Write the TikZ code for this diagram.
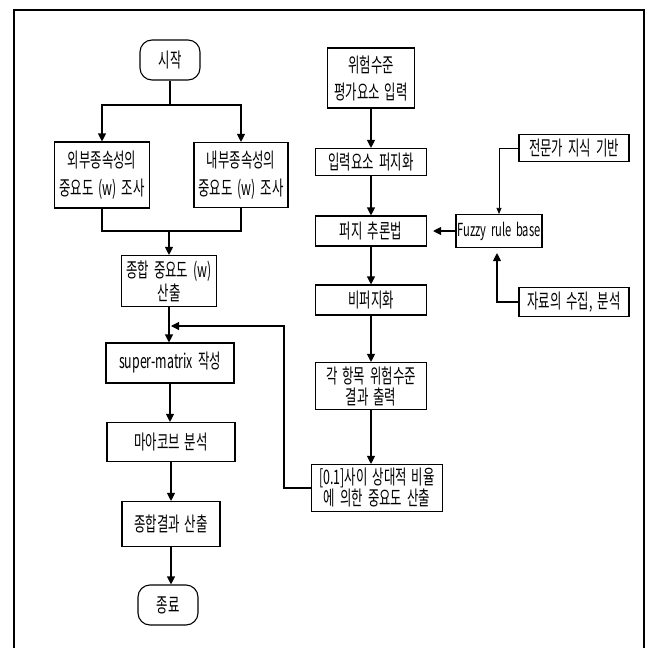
\documentclass[tikz,border=0pt]{standalone}
\usepackage{fontspec}
\setmainfont{Noto Sans CJK KR}[FakeStretch=0.62, WordSpace=1.8]
\usepackage{tikz}
\usetikzlibrary{positioning, arrows.meta}

\tikzset{
  box/.style={draw, line width=1.1pt, inner sep=0pt, align=center,
    font=\fontsize{20}{21}\selectfont},
  term/.style={box, rounded corners=12pt},
  flow/.style={line width=1.1pt, -{Triangle[length=8pt,width=8pt]}},
  thinflow/.style={line width=0.7pt, -{Triangle[length=6pt,width=5pt]}},
  link/.style={line width=1.1pt},
}

\begin{document}
\begin{tikzpicture}[x=1pt, y=-1pt]
			\useasboundingbox (0,0) rectangle (649,648);
			\draw[line width=1.2pt] (14,648) -- (14,10) -- (644,10) -- (644,648);
			
			% left column
			\node[term, minimum width=60, minimum height=40] (start) at (170,60) {시작};
			\node[box, minimum width=95, minimum height=66] (ext) at (102,175) {외부종속성의\\[7pt]중요도 (w) 조사};
			\node[box, minimum width=94, minimum height=65] (int) at (241,175) {내부종속성의\\[7pt]중요도 (w) 조사};
			\node[box, minimum width=95, minimum height=51] (tot) at (169,281) {종합 중요도 (w)\\[2pt]산출};
			\node[box, minimum width=128, minimum height=40] (smx) at (170,363) {super-matrix 작성};
			\node[box, minimum width=128, minimum height=39] (mkv) at (171,442) {마아코브 분석};
			\node[box, minimum width=98, minimum height=45] (res) at (171,524) {종합결과 산출};
			\node[term, minimum width=60, minimum height=40] (end) at (168,605) {종료};
			
			% right column
			\node[box, minimum width=87, minimum height=60] (inp) at (371,78) {위험수준\\[6pt]평가요소 입력};
			\node[box, minimum width=111, minimum height=27] (fzf) at (371,162) {입력요소 퍼지화};
			\node[box, minimum width=111, minimum height=30] (inf) at (371,231) {퍼지 추론법};
			\node[box, minimum width=111, minimum height=30] (dfz) at (371,300) {비퍼지화};
			\node[box, minimum width=111, minimum height=47] (out) at (371,386) {각 항목 위험수준\\결과 출력};
			\node[box, minimum width=131, minimum height=47] (rel) at (377,488) {[0.1]사이 상대적 비율\\에 의한 중요도 산출};
			\node[box, minimum width=86, minimum height=33, font=\fontsize{18}{20}\selectfont] (frb) at (499,231) {Fuzzy rule base};
			\node[box, minimum width=110, minimum height=27] (exp) at (574,148) {전문가 지식 기반};
			\node[box, minimum width=110, minimum height=29] (dat) at (574,302) {자료의 수집, 분석};
			
			\coordinate (split) at (170,105);
			\coordinate (merge) at (169,231);
			\coordinate (fbturn) at (284,326);
			\coordinate (fbend) at (171,326);
			
			\draw[link] (start) -- (split);
			\draw[flow] (split) -| (ext);
			\draw[flow] (split) -| (int);
			\draw[link] (ext) |- (merge);
			\draw[link] (int) |- (merge);
			\draw[flow] (merge) -- (tot);
			\draw[flow] (tot) -- (tot.south |- smx.north);
			\draw[flow] (smx) -- (smx.south |- mkv.north);
			\draw[flow] (mkv) -- (res);
			\draw[flow] (res) -- (res.south |- end.north);
			
			\draw[flow] (inp) -- (fzf);
			\draw[flow] (fzf) -- (inf);
			\draw[flow] (inf) -- (dfz);
			\draw[flow] (dfz) -- (out);
			\draw[flow] (out) -- (out.south |- rel.north);
			\draw[flow] (rel.west) -| (fbturn) -- (fbend);
			
			\draw[flow, shorten >=6pt] (frb) -- (inf);
			\draw[thinflow] (exp.west) -| (frb.north);
			\draw[flow, shorten >=5pt] (dat.west) -| ([xshift=-2pt]frb.south);
\end{tikzpicture}
\end{document}
